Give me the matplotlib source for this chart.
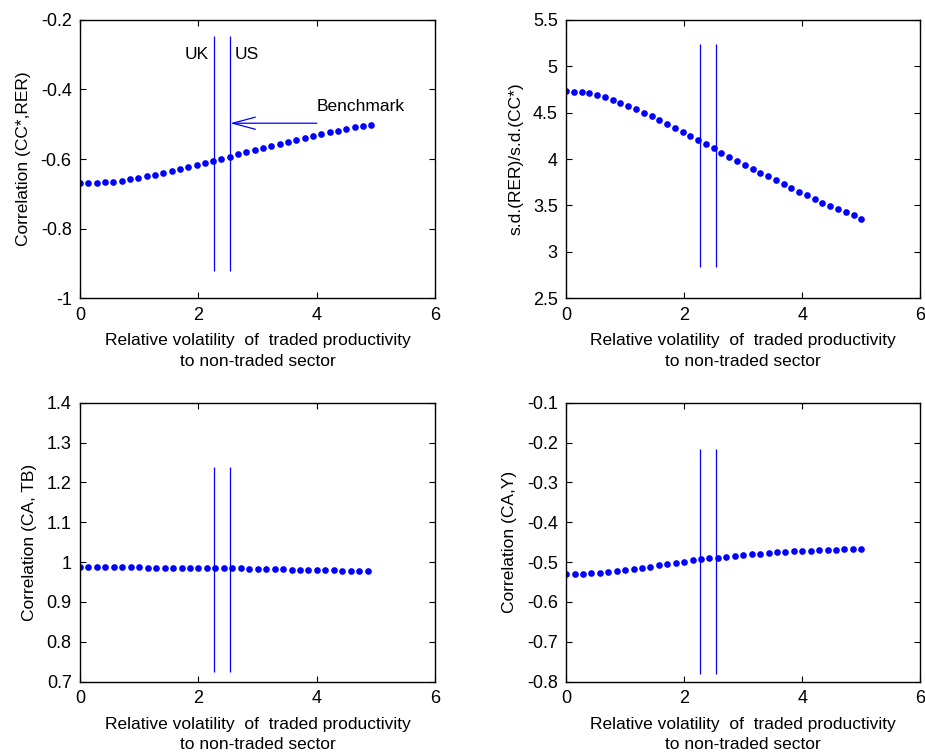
import numpy as np
import matplotlib
matplotlib.use("Agg")
import matplotlib.pyplot as plt

plt.rcParams['font.family'] = ['Liberation Sans', 'DejaVu Sans']
plt.rcParams['font.size'] = 12.5

# relative volatility grid (x) for each panel
x_tl = np.linspace(0, 4.92, 36)
x_tr = np.linspace(0, 5.0, 39)
x_bl = np.linspace(0, 4.86, 35)
x_br = np.linspace(0, 5.0, 36)

# Correlation (CC*, RER)
corr_cc_rer = [-0.670, -0.6695, -0.6685, -0.6666, -0.6647, -0.6618, -0.658, -0.6542,
               -0.6494, -0.6445, -0.6398, -0.635, -0.6292, -0.6235, -0.6168, -0.610,
               -0.6043, -0.5995, -0.5928, -0.5861, -0.5804, -0.5737, -0.5679, -0.5612,
               -0.5555, -0.5497, -0.5449, -0.5392, -0.5334, -0.5286, -0.5229, -0.5181,
               -0.5124, -0.5085, -0.5047, -0.5009]

# s.d.(RER)/s.d.(CC*)
sd_ratio = [4.735, 4.727, 4.720, 4.710, 4.692, 4.670, 4.641, 4.609, 4.573, 4.541,
            4.501, 4.465, 4.426, 4.379, 4.336, 4.293, 4.246, 4.203, 4.160, 4.117,
            4.070, 4.023, 3.980, 3.937, 3.894, 3.854, 3.815, 3.772, 3.729, 3.686,
            3.650, 3.610, 3.571, 3.531, 3.495, 3.459, 3.427, 3.394, 3.358]

# Correlation (CA, TB)
corr_ca_tb = [0.987, 0.987, 0.987, 0.987, 0.987, 0.987, 0.987, 0.987, 0.986, 0.986,
              0.986, 0.986, 0.986, 0.985, 0.985, 0.985, 0.985, 0.984, 0.984, 0.984,
              0.983, 0.983, 0.983, 0.982, 0.982, 0.981, 0.981, 0.980, 0.980, 0.979,
              0.979, 0.978, 0.978, 0.977, 0.977]

# Correlation (CA, Y)
corr_ca_y = [-0.5298, -0.5298, -0.5298, -0.5281, -0.5264, -0.5247, -0.5222, -0.5197,
             -0.5172, -0.5147, -0.5114, -0.508, -0.5055, -0.5022, -0.4988, -0.4955,
             -0.493, -0.4904, -0.4888, -0.4871, -0.4846, -0.4829, -0.4804, -0.4787,
             -0.4771, -0.4754, -0.4746, -0.4729, -0.4721, -0.4712, -0.4704, -0.4696,
             -0.4687, -0.4679, -0.467, -0.4662]

uk_x = 2.27
us_x = 2.54
benchmark_y = -0.497

xlab = "Relative volatility  of  traded productivity\nto non-traded sector"

panels = [
    # x, y, ylabel, ylim, yticks, yticklabels, vline span
    (x_tl, corr_cc_rer, "Correlation (CC*,RER)", (-1, -0.2),
     [-1, -0.8, -0.6, -0.4, -0.2], ["-1", "-0.8", "-0.6", "-0.4", "-0.2"], (-0.923, -0.246)),
    (x_tr, sd_ratio, "s.d.(RER)/s.d.(CC*)", (2.5, 5.5),
     [2.5, 3, 3.5, 4, 4.5, 5, 5.5], ["2.5", "3", "3.5", "4", "4.5", "5", "5.5"], (2.84, 5.24)),
    (x_bl, corr_ca_tb, "Correlation (CA, TB)", (0.7, 1.4),
     [0.7, 0.8, 0.9, 1.0, 1.1, 1.2, 1.3, 1.4],
     ["0.7", "0.8", "0.9", "1", "1.1", "1.2", "1.3", "1.4"], (0.725, 1.238)),
    (x_br, corr_ca_y, "Correlation (CA,Y)", (-0.8, -0.1),
     [-0.8, -0.7, -0.6, -0.5, -0.4, -0.3, -0.2, -0.1],
     ["-0.8", "-0.7", "-0.6", "-0.5", "-0.4", "-0.3", "-0.2", "-0.1"], (-0.781, -0.216)),
]

positions = [
    [0.0865, 0.6035, 0.384, 0.370],
    [0.612, 0.6035, 0.383, 0.370],
    [0.0865, 0.0935, 0.384, 0.371],
    [0.612, 0.0935, 0.383, 0.371],
]

fig = plt.figure(figsize=(9.25, 7.52), dpi=100)

axes = []
for pos, (xs, ys, ylab, ylim, yt, ytl, span) in zip(positions, panels):
    ax = fig.add_axes(pos)
    ax.plot(xs, ys, 'o', color='blue', markersize=4.8, markeredgewidth=0)
    ax.vlines([uk_x, us_x], span[0], span[1], colors='blue', linewidth=0.9)
    ax.set_xlim(0, 6)
    ax.set_ylim(*ylim)
    ax.set_xticks([0, 2, 4, 6])
    ax.set_yticks(yt)
    ax.set_yticklabels(ytl)
    ax.set_xlabel(xlab, labelpad=7, fontsize=12.5, linespacing=1.45)
    ax.set_ylabel(ylab, labelpad=7, fontsize=12.5)
    ax.tick_params(direction='in', top=True, right=True, length=4, width=0.8,
                   labelsize=13, pad=6)
    for s in ax.spines.values():
        s.set_linewidth(1.0)
    axes.append(ax)

ax = axes[0]
ax.text(uk_x - 0.1, -0.30, "UK", ha='right', va='center', fontsize=12.5)
ax.text(us_x + 0.07, -0.30, "US", ha='left', va='center', fontsize=12.5)
ax.annotate("", xy=(us_x, benchmark_y), xytext=(4.0, benchmark_y),
            arrowprops=dict(arrowstyle='->,head_length=1.3,head_width=0.35',
                            color='blue', linewidth=0.9, shrinkA=0, shrinkB=0))
ax.text(4.0, -0.449, "Benchmark", ha='left', va='center', fontsize=12.5)

fig.savefig("out.png", dpi=100)
